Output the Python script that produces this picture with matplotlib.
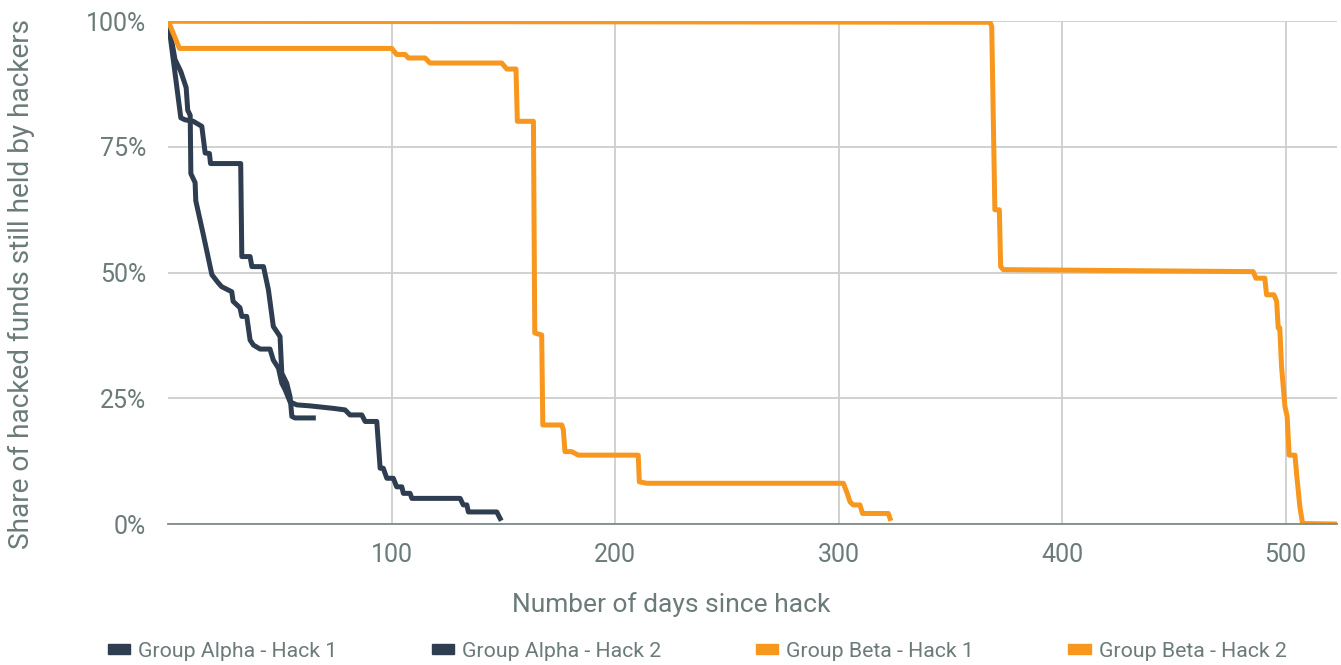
import matplotlib.pyplot as plt
import matplotlib.patches as mpatches
from matplotlib.ticker import FuncFormatter

# Series: (days since hack, share of funds still held in %)
alpha1_days = [0, 3.0, 5.6, 8.0, 8.7, 9.8, 10.1, 12.0, 12.3, 15.6, 19.5, 22.3, 23.9, 28.4, 29.0,
               32.1, 32.9, 35.1, 36.6, 38.1, 41.1, 45.5, 47.0, 49.3, 50.8, 52.3, 54.5, 57.5,
               63.4, 73.9, 79.1, 81.3, 86.6, 88.1, 93.3, 94.8, 96.2, 97.8, 100.7, 102.2, 104.5,
               105.2, 108.2, 109.0, 130.6, 132.0, 133.6, 134.3, 147.0, 148.5]
alpha1_vals = [100, 92.4, 90.0, 86.8, 82.3, 81.3, 69.7, 67.9, 64.3, 57.7, 49.6, 48.0, 47.2, 46.2, 44.3,
               43.0, 41.3, 41.3, 36.6, 35.6, 34.8, 34.8, 32.6, 31.0, 28.0, 26.7, 24.3, 23.7,
               23.5, 23.0, 22.7, 21.7, 21.7, 20.4, 20.4, 11.1, 11.1, 9.1, 9.1, 7.4, 7.4,
               6.1, 6.1, 5.1, 5.1, 3.8, 3.8, 2.4, 2.4, 1.1]

alpha2_days = [0, 5.6, 7.5, 11.2, 15.0, 16.5, 18.4, 18.9, 32.4, 32.9, 36.6, 37.4, 42.6, 44.8,
               47.0, 50.0, 50.8, 53.0, 54.5, 55.3, 56.7, 64.9]
alpha2_vals = [100, 80.8, 80.4, 80.1, 79.1, 73.8, 73.7, 71.7, 71.7, 53.2, 53.2, 51.2, 51.2, 46.6,
               39.3, 37.3, 30.0, 28.0, 25.3, 21.4, 21.1, 21.1]

beta1_days = [0, 5.0, 100.0, 102.2, 106.0, 107.4, 114.9, 117.1, 149.2, 151.5, 155.6, 156.2, 163.4,
              164.0, 167.1, 167.6, 176.1, 176.8, 177.5, 180.5, 183.5, 210.3, 210.8, 214.1,
              302.1, 303.6, 305.1, 306.5, 309.5, 310.7, 322.2, 323.0]
beta1_vals = [100, 94.6, 94.6, 93.4, 93.4, 92.7, 92.7, 91.7, 91.7, 90.5, 90.5, 80.1, 80.1,
              38.0, 37.6, 19.7, 19.7, 18.7, 14.4, 14.4, 13.7, 13.7, 8.4, 8.1,
              8.1, 6.4, 4.4, 3.8, 3.8, 2.1, 2.1, 1.1]

beta2_days = [0, 367.7, 368.5, 369.9, 371.9, 372.5, 373.7, 485.5, 486.7, 490.7, 491.5, 494.8,
              496.0, 496.7, 497.4, 498.2, 499.7, 500.7, 501.6, 504.2, 504.9, 506.4, 507.6, 522.1]
beta2_vals = [100, 99.8, 99.0, 62.5, 62.5, 51.2, 50.6, 50.2, 48.9, 48.9, 45.6, 45.6,
              44.3, 39.0, 39.0, 31.3, 23.4, 21.4, 13.7, 13.7, 10.1, 3.4, 0.1, 0]

labels = ['Group Alpha - Hack 1', 'Group Alpha - Hack 2', 'Group Beta - Hack 1', 'Group Beta - Hack 2']
dark = '#2e3e50'
orange = '#f7971e'
text_color = '#6b7b79'

plt.rcParams['font.family'] = ['Roboto', 'DejaVu Sans']

fig = plt.figure(figsize=(13.41, 6.65), dpi=100)
ax = fig.add_axes([0.1255, 0.212, 0.8715, 0.756])

lw = 3.6
ax.plot(alpha1_days, alpha1_vals, color=dark, lw=lw)
ax.plot(alpha2_days, alpha2_vals, color=dark, lw=lw)
ax.plot(beta1_days, beta1_vals, color=orange, lw=lw)
ax.plot(beta2_days, beta2_vals, color=orange, lw=lw)

ax.set_xlim(0, 523)
ax.set_ylim(0, 100)
ax.set_xticks([100, 200, 300, 400, 500])
ax.set_yticks([0, 25, 50, 75, 100])
ax.yaxis.set_major_formatter(FuncFormatter(lambda v, p: f'{int(v)}%'))

ax.grid(True, color='#cbcfce', lw=1.3)
ax.set_axisbelow(True)
for s in ['top', 'right', 'left']:
    ax.spines[s].set_visible(False)
ax.spines['bottom'].set_color('#7f8c8a')
ax.spines['bottom'].set_linewidth(1.3)
ax.tick_params(length=0, labelsize=18, labelcolor=text_color)
ax.tick_params(axis='y', pad=16)
ax.tick_params(axis='x', pad=14)

ax.set_xlabel('Number of days since hack', fontsize=19, color=text_color)
ax.xaxis.set_label_coords(0.43, -0.135)
ax.set_ylabel('Share of hacked funds still held by hackers', fontsize=20.2, color=text_color)
ax.yaxis.set_label_coords(-0.114, 0.478)

handles = [mpatches.Patch(color=c) for c in [dark, dark, orange, orange]]
fig.legend(handles, labels, loc='lower center', bbox_to_anchor=(0.52, -0.022), ncol=4, frameon=False,
           fontsize=15.3, labelcolor=text_color, handlelength=1.04, handleheight=0.33,
           handletextpad=0.38, columnspacing=4.45)

plt.savefig('out.png', dpi=100)
plt.close()
